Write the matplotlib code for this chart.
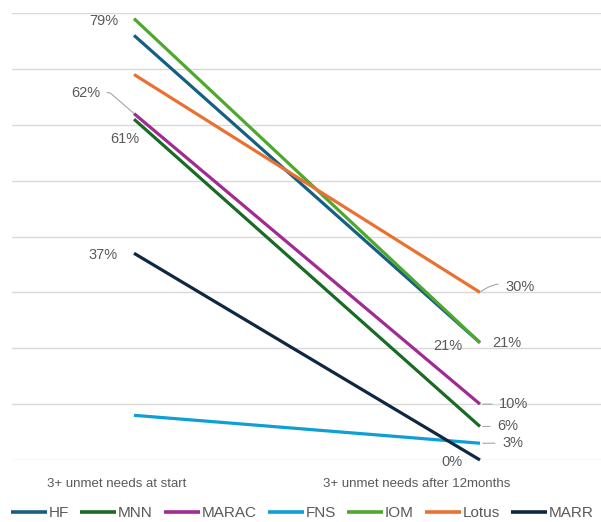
import matplotlib.pyplot as plt

plt.rcParams["font.family"] = ["Liberation Sans", "DejaVu Sans"]

# Share of clients with 3+ unmet needs, at start and after 12 months
SERVICES = ["HF", "MNN", "MARAC", "FNS", "IOM", "Lotus", "MARR"]
AT_START = [76, 61, 62, 8, 79, 69, 37]
AFTER_12M = [21, 6, 10, 3, 21, 30, 0]
COLORS = ["#156082", "#196B24", "#A02B93", "#0F9ED5", "#4EA72E", "#E97132", "#0E2841"]
CATEGORIES = ["3+ unmet needs at start", "3+ unmet needs after 12months"]

TEXT_GREY = "#595959"
GRID_GREY = "#d9d9d9"
LEADER_GREY = "#a6a6a6"
PX = 0.72  # points per pixel at dpi 100

fig = plt.figure(figsize=(6.01, 5.22), dpi=100)
ax = fig.add_axes([12 / 601, 1 - 460 / 522, 589 / 601, (460 - 13) / 522])

lines = []
for name, a, b, c in zip(SERVICES, AT_START, AFTER_12M, COLORS):
    (ln,) = ax.plot([0, 1], [a, b], color=c, lw=2.3, solid_capstyle="butt",
                    clip_on=False, label=name)
    lines.append(ln)

ax.set_xlim(-122 / 346, 467 / 346)
ax.set_ylim(0, 80)
ax.set_yticks(range(0, 81, 10))
ax.yaxis.grid(True, color=GRID_GREY, lw=1)
ax.set_axisbelow(True)
ax.tick_params(axis="y", length=0, labelleft=False)
for s in ax.spines.values():
    s.set_visible(False)

ax.set_xticks([-17 / 346, 283 / 346])
ax.set_xticklabels(CATEGORIES, fontsize=9.5, color=TEXT_GREY)
ax.tick_params(axis="x", length=0, pad=13)

# value labels: (series, x, offset px (dx, dy up), ha, leader)
idx = {n: i for i, n in enumerate(SERVICES)}
labels = [
    ("IOM", 0, (-16, -2), "right", None),
    ("MARAC", 0, (-34, 21), "right", "angle"),
    ("MNN", 0, (-9, -20), "center", None),
    ("MARR", 0, (-16, -2), "right", None),
    ("Lotus", 1, (25, 5), "left", "arc"),
    ("IOM", 1, (12, 0), "left", None),
    ("HF", 1, (-18, -3), "right", None),
    ("MARAC", 1, (19, 0), "left", "line"),
    ("MNN", 1, (17, 0), "left", "line"),
    ("FNS", 1, (22, 0), "left", "line"),
    ("MARR", 1, (-18, -2), "right", None),
]
for name, xi, (dx, dy), ha, leader in labels:
    i = idx[name]
    val = AT_START[i] if xi == 0 else AFTER_12M[i]
    arrow = None
    if leader == "angle":
        arrow = dict(arrowstyle="-", color=LEADER_GREY, lw=0.8, shrinkA=3, shrinkB=0,
                     connectionstyle="angle,angleA=0,angleB=139,rad=2")
    elif leader == "arc":
        arrow = dict(arrowstyle="-", color=LEADER_GREY, lw=0.8, shrinkA=3, shrinkB=1,
                     connectionstyle="arc3,rad=0.3")
    elif leader == "line":
        arrow = dict(arrowstyle="-", color=LEADER_GREY, lw=0.8, shrinkA=3, shrinkB=2)
    ax.annotate(f"{val}%", xy=(xi, val), xytext=(dx * PX, dy * PX),
                textcoords="offset points", ha=ha, va="center",
                fontsize=10.5, color=TEXT_GREY, arrowprops=arrow,
                annotation_clip=False)

leg = fig.legend(handles=lines, loc="center left",
                 bbox_to_anchor=(11 / 601, 1 - 513 / 522),
                 ncol=7, frameon=False, fontsize=11, handlelength=2.35,
                 handletextpad=0.13, columnspacing=0.72, borderpad=0,
                 borderaxespad=0, labelcolor=TEXT_GREY)
for h in leg.legend_handles:
    h.set_linewidth(2.6)

fig.savefig("out.png", dpi=100)
